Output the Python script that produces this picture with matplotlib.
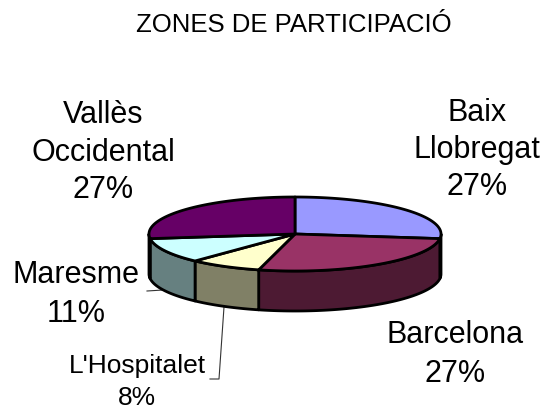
import numpy as np
import matplotlib
matplotlib.use("Agg")
import matplotlib.pyplot as plt
from matplotlib.colors import to_rgb

# ---- data ----
title = "ZONES DE PARTICIPACIÓ"
zones = ["Baix\nLlobregat", "Barcelona", "L'Hospitalet", "Maresme", "Vallès\nOccidental"]
values = [27, 27, 8, 11, 27]
pct_labels = ["27%", "27%", "8%", "11%", "27%"]
top_colors = ["#9999FF", "#993366", "#FFFFCC", "#CCFFFF", "#660066"]

# ---- layout (pixel space) ----
W, H = 548, 414
cx, cy, rx, ry, depth = 295, 235, 146, 37, 40
label_layout = [
    (477, [121, 158, 195], 22),
    (455, [343, 382], 22),
    (137, [373, 405], 19),
    (76, [283, 322], 22),
    (103, [123, 161, 198], 22),
]

plt.rcParams["font.family"] = ["Liberation Sans", "DejaVu Sans"]
fig = plt.figure(figsize=(W / 100, H / 100), dpi=100)
ax = fig.add_axes([0, 0, 1, 1])
ax.set_xlim(0, W)
ax.set_ylim(H, 0)
ax.axis("off")


def pts(theta_deg, dy=0.0):
    t = np.radians(theta_deg)
    return cx + rx * np.sin(t), cy - ry * np.cos(t) + dy


total = float(sum(values))
bounds = np.concatenate([[0], np.cumsum(values)]) / total * 360.0

# sides (front half only: 90..270 deg clockwise from 12 o'clock)
for i, col in enumerate(top_colors):
    a, b = bounds[i], bounds[i + 1]
    lo, hi = max(a, 90), min(b, 270)
    if lo >= hi:
        continue
    ts = np.linspace(lo, hi, 80)
    xt, yt = pts(ts)
    xb, yb = pts(ts[::-1], depth)
    side = tuple(c * 0.5 for c in to_rgb(col))
    ax.fill(np.concatenate([xt, xb]), np.concatenate([yt, yb]),
            facecolor=side, edgecolor="black", linewidth=2.0, joinstyle="round", zorder=2)

# top faces
for i, col in enumerate(top_colors):
    a, b = bounds[i], bounds[i + 1]
    ts = np.linspace(a, b, 120)
    xa, ya = pts(ts)
    ax.fill(np.concatenate([[cx], xa]), np.concatenate([[cy], ya]),
            facecolor=col, edgecolor="black", linewidth=2.0, joinstyle="round", zorder=3)

# leader lines
ax.plot([147, 163], [292, 291], color="#333333", lw=0.8, zorder=1)
ax.plot([224, 219, 210], [308, 380, 380], color="#333333", lw=0.8, zorder=1)

# labels
for (x, baselines, fs), name, pct in zip(label_layout, zones, pct_labels):
    lines = name.split("\n") + [pct]
    for txt, yb in zip(lines, baselines):
        ax.text(x, yb, txt, ha="center", va="baseline", fontsize=fs, color="black")

ax.text(294, 32, title, ha="center", va="baseline", fontsize=18.5, color="black")

fig.savefig("out.png", dpi=100)
